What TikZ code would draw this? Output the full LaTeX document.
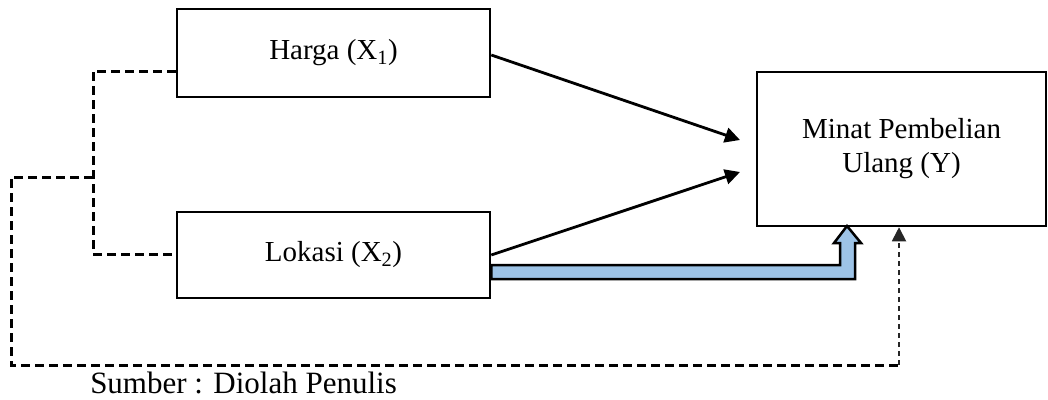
\documentclass[tikz,border=0pt]{standalone}
\usepackage{fontspec}
\setmainfont{Liberation Serif}
\usetikzlibrary{calc, arrows.meta}

\definecolor{panahbiru}{RGB}{157,195,230}

\begin{document}
\begin{tikzpicture}[x=1pt, y=-1pt, line width=2.5pt,
  kotak/.style={draw, line width=2.5pt, inner sep=0pt, font=\fontsize{29}{34}\selectfont, align=center},
  garisputus/.style={line width=3pt, dash pattern=on 9pt off 5pt},
  panah/.style={line width=2.8pt, -{Triangle[length=15pt, width=15pt]}}]

% batas gambar
\useasboundingbox (0,0) rectangle (1048,399);

% variabel X1, X2 dan Y
\node[kotak, minimum width=313pt, minimum height=88pt] (harga) at (333.5,53) {Harga (X\textsubscript{1})};
\node[kotak, minimum width=313pt, minimum height=86pt] (lokasi) at (333.5,255) {Lokasi (X\textsubscript{2})};
\node[kotak, minimum width=289pt, minimum height=154pt] (minat) at (901.5,149)
  {Minat Pembelian\\Ulang (Y)};

% ujung panah parsial (sedikit sebelum kotak Y)
\coordinate (ujung1) at (740,140);
\coordinate (ujung2) at (740,172);
\coordinate (awal1) at (harga.east |- 0,55);
\coordinate (awal2) at (lokasi.east |- 0,255);

\draw[panah] (awal1) -- (ujung1);
\draw[panah] (awal2) -- (ujung2);

% panah tebal biru dari X2 ke Y
\draw[fill=panahbiru, line width=2.5pt, line join=miter]
  (lokasi.east |- 0,265) -- (840,265) -- (840,243) -- (834,243)
  -- (847,226) -- (861,243) -- (855,243) -- (855,279)
  -- (lokasi.east |- 0,279) -- cycle;

% kurung putus-putus X1 dan X2
\coordinate (kiri1) at (93,71);
\coordinate (kiri2) at (93,254);
\coordinate (tengah) at (93,177);
\draw[garisputus] (harga.west |- kiri1) -- (kiri1) -- (kiri2) -- (lokasi.west |- kiri2);

% garis putus-putus simultan ke Y
\coordinate (sudut1) at (11,177);
\coordinate (sudut2) at (11,365);
\coordinate (sudut3) at (899,365);
\draw[garisputus] (tengah) -- (sudut1) -- (sudut2) -- (sudut3);
\draw[line width=1.8pt, gray!30!black, dash pattern=on 5pt off 4pt,
  -{Triangle[length=14pt, width=14pt]}] (sudut3) -- (sudut3 |- minat.south);

% sumber
\node[anchor=base west, inner sep=0pt, font=\fontsize{31}{36}\selectfont] (sumber) at (89,393)
  {Sumber : Diolah Penulis};

\end{tikzpicture}
\end{document}
